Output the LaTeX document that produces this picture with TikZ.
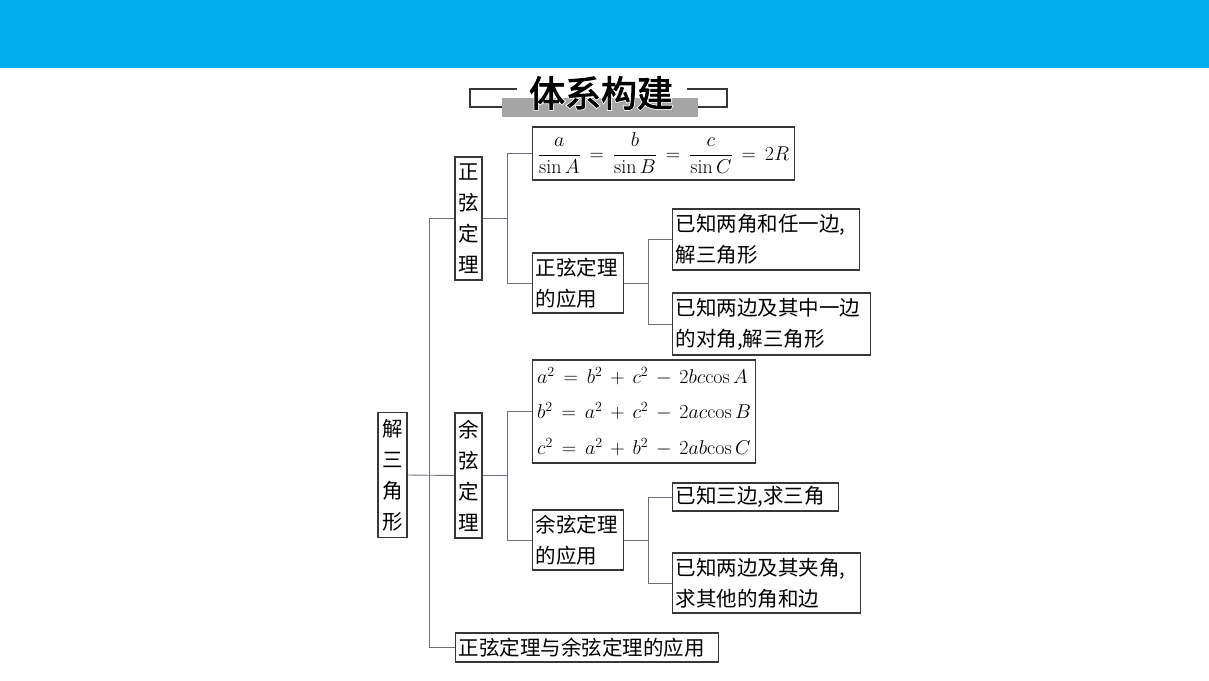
\RequirePackage{fix-cm}
\documentclass[tikz,border=0pt]{standalone}
\usepackage{amsmath}
\usepackage{fontspec}
\newfontfamily\cjk{Noto Sans CJK SC}
\newfontfamily\cjkbold[FakeBold=2.5]{Noto Sans CJK SC}
\newfontfamily\cjkhalo[FakeBold=7]{Noto Sans CJK SC}
\usetikzlibrary{positioning}
\definecolor{barblue}{RGB}{0,174,239}
\definecolor{boxgray}{RGB}{55,55,55}
\definecolor{linkgray}{RGB}{112,108,122}
\definecolor{bandgray}{RGB}{165,165,165}
\tikzset{
  box/.style={
    rectangle, draw=boxgray, line width=1.1pt,
    inner xsep=3pt, inner ysep=0pt, align=left,
    font=\cjk\fontsize{20.5}{31}\selectfont
  },
  vbox/.style={box, align=center, inner xsep=0pt,
    minimum width=27pt, text width=21pt},
  leaf/.style={box, anchor=west},
  mathbox/.style={leaf, inner xsep=1pt, font=\fontsize{20}{35.5}\selectfont},
  link/.style={draw=linkgray, line width=0.9pt},
}

\begin{document}
\begin{tikzpicture}[x=1pt, y=-1pt]
  \useasboundingbox (0,0) rectangle (1209,680);

  % Header
  \fill[barblue] (0,0) rectangle (1209,68);
  \fill[bandgray] (502,98) rectangle (698,117);
  \draw[boxgray, line width=1.5pt] (517,89) -- (470,89) -- (470,107) -- (502,107);
  \draw[boxgray, line width=1.5pt] (687,89) -- (727,89) -- (727,107) -- (698,107);
  \node[font=\cjkhalo\fontsize{36}{36}\selectfont, text=white] (halo) at (601,93) {体系构建};
  \node[font=\cjkbold\fontsize{36}{36}\selectfont] (title) at (601,93) {体系构建};

  % Nodes
  \node[vbox, minimum width=29pt, minimum height=125pt] (root) at (392.5,475) {解\\三\\角\\形};
  \node[vbox, minimum height=123pt] (sine)   at (468.5,218.5) {正\\弦\\定\\理};
  \node[vbox, minimum height=125pt] (cosine) at (468.5,475.5) {余\\弦\\定\\理};

  % Sine branch
  \node[mathbox, minimum height=53pt, minimum width=262pt] (sform) at (532,153.5)
    {$\dfrac{a}{\sin A}\,=\,\dfrac{b}{\sin B}\,=\,\dfrac{c}{\sin C}\,=\,2R$};
  \node[leaf, minimum height=60pt, text width=85pt] (sapp) at (532,283) {正弦定理\\的应用};
  \node[leaf, minimum height=61pt, text width=181pt] (sl1) at (672,239.5) {已知两角和任一边,\\解三角形};
  \node[leaf, minimum height=62pt, text width=192pt] (sl2) at (672,324) {已知两边及其中一边\\的对角,解三角形};

  % Cosine branch
  \node[mathbox, minimum height=103pt, minimum width=223pt] (cform) at (532,411.5)
    {$a^{2}\,=\,b^{2}\,+\,c^{2}\,-\,2bc\mathrm{cos}\,A$\\
     $b^{2}\,=\,a^{2}\,+\,c^{2}\,-\,2ac\mathrm{cos}\,B$\\
     $c^{2}\,=\,a^{2}\,+\,b^{2}\,-\,2ab\mathrm{cos}\,C$};
  \node[leaf, minimum height=60pt, text width=85pt] (capp) at (532,540) {余弦定理\\的应用};
  \node[leaf, minimum height=28pt, text width=160pt] (cl1) at (672,497) {已知三边,求三角};
  \node[leaf, minimum height=60pt, text width=182pt] (cl2) at (672,583) {已知两边及其夹角,\\求其他的角和边};

  % Bottom
  \node[leaf, minimum height=29pt, text width=257pt] (both) at (455,647.5) {正弦定理与余弦定理的应用};

  % Connectors
  \draw[link] (root.east) -- (cosine.west);
  \draw[link] (sine.west) -- ++(-25,0) |- (both.west);

  \draw[link] (sine.east) -- ++(25,0) coordinate (sj) |- (sform.west);
  \draw[link] (sj) |- (sapp.west);
  \draw[link] (sapp.east) -- ++(24,0) coordinate (sa) |- (sl1.west);
  \draw[link] (sa) |- (sl2.west);

  \draw[link] (cosine.east) -- ++(25,0) coordinate (cj) |- (cform.west);
  \draw[link] (cj) |- (capp.west);
  \draw[link] (capp.east) -- ++(24,0) coordinate (ca) |- (cl1.west);
  \draw[link] (ca) |- (cl2.west);

\end{tikzpicture}
\end{document}
